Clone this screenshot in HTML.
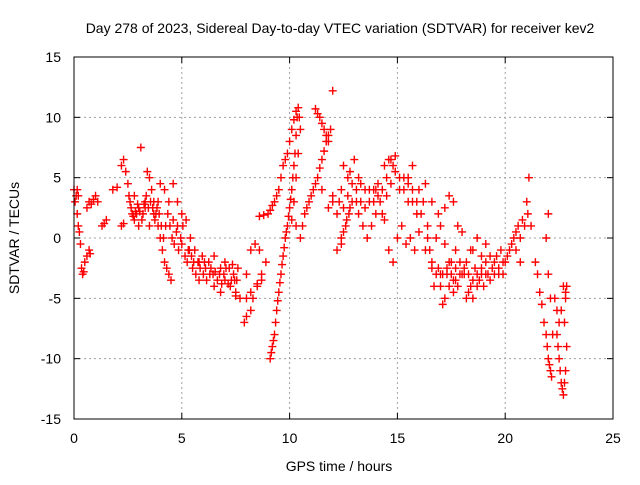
<!DOCTYPE html>
<html><head><meta charset="utf-8"><style>
body{margin:0;background:#fff}
svg text{font-family:"Liberation Sans",sans-serif;font-size:14px;fill:#000}
</style></head><body>
<svg id="chart" width="640" height="480">
<g id="grid"></g>
<g id="marks"></g>
<g id="axes"></g>
<text x="340" y="33" text-anchor="middle">Day 278 of 2023, Sidereal Day-to-day VTEC variation (SDTVAR) for receiver kev2</text>
<text x="339" y="471" text-anchor="middle">GPS time / hours</text>
<text transform="translate(19,238) rotate(-90)" text-anchor="middle">SDTVAR / TECUs</text>
</svg>
<script>
const xTicks=[0,5,10,15,20,25];
const yTicks=[-15,-10,-5,0,5,10,15];
const hours=[0,0.05,0.1,0.15,0.2,0.25,0.3,0.35,0.4,0.45,0.5,0.6,0.7,0.75,0.6,0.7,0.8,0.9,1,1.1,0.2,0.15,
1.3,1.5,1.4,1.8,2.0,2.2,2.3,2.4,2.2,2.3,
2.5,2.6,2.7,2.8,2.9,3,3.1,3.2,3.3,3.4,3.5,3.6,3.7,3.8,3.9,4,4.1,4.2,4.3,4.4,4.5,3.5,3.7,3.9,4.0,4.2,4.4,4.6,4.8,4.6,4.8,5,5.2,5.4,5.6,5.8,6,5,5.3,5.5,5.8,6.1,6.3,6.5,6.8,7,7.2,7.4,7.5,6.5,6.8,7,7.3,7.6,3.3,2.8,3,
7.9,8,8.2,8.3,8.5,8.7,8.9,8.6,8.4,8.2,8,7.7,7.5,8.0,8.2,8.5,8.7,
9.1,9.2,9.3,9.4,9.5,9.6,9.7,9.8,9.9,10,10.1,10.2,
8.6,9,9.3,9.5,9.7,9.9,10.1,10.3,10.4,10.5,10.4,10.3,10.2,10.1,10.3,10.5,10.7,10.9,11.1,11.3,11.5,11.7,11.9,11.2,11.4,11.6,11.8,12,
11.5,12,12.2,12.4,12.5,12.7,12.9,13.1,13.3,13.5,13.7,13.9,14.1,14.3,14.5,14.7,14.9,15.1,15.3,15.5,15.7,15.9,12.2,12.4,12.6,12.8,12.0,11.8,13.2,13.4,13.6,13.8,14,14.2,14.4,14.6,14.8,15,15.2,15.4,15.6,15.8,16,16.2,16.4,15.5,15.7,16,16.3,16.6,16.9,17.2,17.4,17.6,17.8,14,13,13.2,12.8,
16.5,16.6,16.8,17,17.1,17.3,17.5,17.7,17.9,18.1,18.3,18.5,18.7,18.9,19.1,19.3,19.5,19.7,16.8,17,17.2,17.4,17.6,17.8,18,18.2,18.4,18.6,18.8,19,19.2,19.4,19.6,19.8,20,20.2,20.4,20.6,20.8,21,21.1,21.2,20.5,20.7,19.9,18.5,18.7,18.9,19.1,18,17.7,16.7,17,17.2,
21.4,21.5,21.6,21.8,21.9,22,22.1,21.9,22,22.3,22.4,22.5,22.6,22.7,22.8,22.6,22.7,22.8,22.2,22.1,22.0,
9.15,9.25,9.35,9.45,9.55,9.65,9.75,9.85,9.95,10.05,10.15,10.25,10.3,10.35,
8.8,9.1,9.2,9.4,9.6,9.8,10,10.2,10.45,
10.6,10.8,11,11.2,11.4,11.6,11.8,11.3,11.5,11.7,
2.55,2.65,2.75,2.85,2.95,3.05,3.15,3.25,3.35,3.45,3.55,3.65,3.75,3.85,3.95,4.05,4.15,4.25,4.35,4.45,4.55,4.65,4.75,4.85,4.95,5.05,5.15,5.25,5.35,5.45,5.55,5.65,5.75,5.85,5.95,6.05,6.15,6.25,6.35,6.45,6.55,6.65,6.75,6.85,6.95,7.05,7.15,7.25,7.35,7.45,7.55,
12.3,12.5,12.7,12.9,13.1,13.3,13.5,13.7,13.9,14.1,14.3,14.5,14.7,14.9,15.1,15.3,15.5,15.7,15.9,16.1,14.4,14.6,14.8,12.4,12.5,12.65,12.75,
16.6,16.9,17.1,17.3,17.5,17.7,17.9,18.1,18.3,18.5,18.7,18.9,19.1,19.3,19.5,19.7,19.9,20.1,20.3,20.5,20.7,20.9,21.05,17.4,17.6,18.2,18.4,16.4,16.3,
21.7,21.95,22.05,22.15,22.45,22.55,22.65,22.75,22.85,22.75,22.8,22.85,22.5,22.4];
const sdtvar=[4,3,3.5,2,1,0.5,-0.5,-2.5,-3,-2.8,-2,-1.5,-1,-1.3,2.5,3,2.8,3.2,3.5,3,3.5,4,
1,1.5,1.2,4,4.2,6,6.5,5.5,1,1.2,
4.5,3,2,1.5,2,2.5,7.5,2,3,5.5,5,4,3,2,1,0,-1,-2,-2.5,-3,-3.5,1,2,3,4.5,4,3,1.5,1,4.5,3,2,1.5,0,-1,-2,-3,-0.5,-1,-2.5,-3.5,-2.5,-3,-4,-4.5,-3.5,-2.5,-3,-4.5,-1.5,-2.5,-2,-3.5,-2.5,2.5,3.5,1,
-7,-6.5,-6,-5,-4,-3,-2,-1,-0.5,-1,-3,-5,-4.8,-5,-4.5,-3.8,-3.5,
-10,-9,-8,-6,-4.5,-3,-1.5,0,1,2.5,4,6,
1.8,2,3,4,6,7,9,10.5,10.8,9,7,5,3,1.5,1,0,2,3,4,5,6.5,8,9,10.7,10,9,8,12.2,
4,3,2,4,6,5,3,4,3,4,3,4,4.5,2,5,6.5,6.8,5,4,3,4,2,-1,0,1,2.5,3.5,2.5,2,1,0,1,2,3,1.5,-1,-2,0,1,-0.5,0,-1,0.5,3,1,5,6,4,4.5,3,2,2.5,3.5,3,1,4,6.5,5,5.5,
-1,-2.5,-3,-4,-5.5,-3,-2,-1,-2,-3,-4.5,-5,-4,-3,-2,-1.5,-2,-3,0,1,-0.5,-2,-3.5,-4,-3,-2,-1,-2.5,-3.5,-4,-3,-2.5,-1.5,-1,-2,-1,0,1,1.5,3,5,1,-1,-2,-3,-1,0,-1.5,-0.5,0.5,-2.5,-4,-3,-5,
-2,-3,-4.5,-7,-8,-10,-11,0,2,-5,-8,-10,-12,-13,-11,-6,-4,-5,-8,-5,-3,
-9.5,-8.5,-7,-5.2,-3.7,-2.2,-0.8,0.5,1.8,3.2,5,7,8.5,10,
1.9,2.3,2.7,3.5,5,6.5,8,9.8,10,
1,2.5,3.5,4.5,5.8,7.2,8.5,10.3,9.5,8.5,
3.5,2.5,1.8,2.2,2.8,2.2,1.5,2.8,3.5,2.5,3,2.5,1.5,2.5,2,1,0,1,2,1,0,-0.5,0.5,-1,0,1,-1.5,-2,-1,-1.5,-2,-3,-2,-2.5,-1.5,-2,-3.5,-2,-2.5,-3,-2.8,-3.5,-3,-3.8,-3,-2.5,-3.8,-4,-2.2,-3.5,-3.5,
3,2.5,3.5,4.5,3,4.5,2.5,4,3,3.5,4,3.5,4.5,5.5,4,5,4.5,3,3,2,6,6.5,6,-0.5,0.5,1.5,2,
-2,-2.5,-3,-2.5,-3,-3.5,-3,-2.5,-3,-3.5,-3,-2.5,-3,-3.5,-3,-2.5,-2,-1.5,-0.5,0.5,0,1,2,-4,-4.5,-5,-4,0,-1,
-5.5,-9,-10.5,-11.5,-9,-11,-12.5,-12,-9,-7,-4.5,-4,-7,-6];
const L=74,R=613,T=57,B=419;
const xs=v=>L+(v-0)/25*(R-L);
const ys=v=>B-(v+15)/30*(B-T);
const NS='http://www.w3.org/2000/svg';
const grid=document.getElementById('grid'),axes=document.getElementById('axes'),marks=document.getElementById('marks');
function mk(tag,attrs,parent){const e=document.createElementNS(NS,tag);for(const k in attrs)e.setAttribute(k,attrs[k]);parent.appendChild(e);return e;}
xTicks.forEach(t=>{const x=xs(t);
 if(t>0&&t<25){const g=mk('line',{x1:x,x2:x,y1:T,y2:B,stroke:'#a0a0a0','stroke-dasharray':'2,3'},grid);
 
 }
 const a=mk('line',{x1:x,x2:x,y1:B,y2:B-6,stroke:'#000'},axes);
 
 
 const b=mk('line',{x1:x,x2:x,y1:T,y2:T+6,stroke:'#000'},axes);
 
 
 const tx=mk('text',{x:x,y:B+24,'text-anchor':'middle'},axes);tx.textContent=t;
 
 
});
yTicks.forEach(t=>{const y=ys(t);
 if(t>-15&&t<15){const g=mk('line',{x1:L,x2:R,y1:y,y2:y,stroke:'#a0a0a0','stroke-dasharray':'2,3'},grid);
 
 }
 const a=mk('line',{x1:L,x2:L+6,y1:y,y2:y,stroke:'#000'},axes);
 
 
 const b=mk('line',{x1:R,x2:R-6,y1:y,y2:y,stroke:'#000'},axes);
 
 
 const tx=mk('text',{x:L-13,y:y+5,'text-anchor':'end'},axes);tx.textContent=t;
 
 
});
const box=mk('rect',{x:L,y:T,width:R-L,height:B-T,fill:'none',stroke:'#000'},axes);


hours.forEach((h,i)=>{const x=xs(h),y=ys(sdtvar[i]);
 const p=mk('path',{d:`M${x-4},${y}h8M${x},${y-4}v8`,stroke:'#f00','stroke-width':1.4,fill:'none'},marks);
 
 
});
</script>
</body></html>
